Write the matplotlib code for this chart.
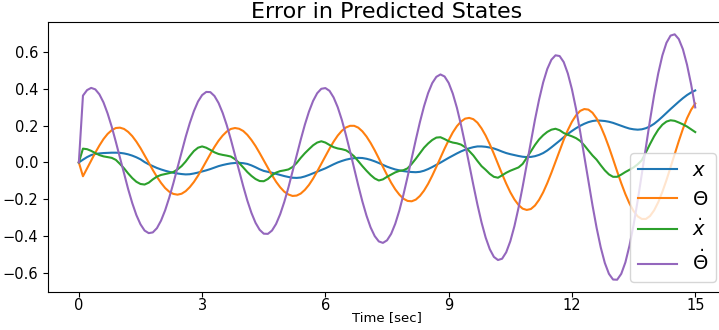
import numpy as np
import matplotlib
matplotlib.use("Agg")
import matplotlib.pyplot as plt

# time grid (sec) and the four error traces
t = np.linspace(0, 15, 151)

err_x = [
    0.000, 0.015, 0.029, 0.040, 0.046, 0.049, 0.051, 0.052, 0.053, 0.053,
    0.052, 0.049, 0.044, 0.037, 0.028, 0.017, 0.002, -0.010, -0.020, -0.030,
    -0.038, -0.045, -0.051, -0.056, -0.060, -0.063, -0.065, -0.064, -0.060, -0.055,
    -0.049, -0.043, -0.036, -0.028, -0.020, -0.014, -0.009, -0.005, -0.003, -0.002,
    -0.004, -0.008, -0.016, -0.026, -0.037, -0.046, -0.051, -0.056, -0.062, -0.068,
    -0.074, -0.079, -0.083, -0.084, -0.082, -0.076, -0.068, -0.059, -0.050, -0.041,
    -0.032, -0.021, -0.010, 0.000, 0.008, 0.015, 0.020, 0.023, 0.025, 0.024,
    0.020, 0.014, 0.006, -0.003, -0.013, -0.023, -0.031, -0.038, -0.043, -0.047,
    -0.050, -0.052, -0.053, -0.051, -0.045, -0.036, -0.025, -0.013, -0.001, 0.012,
    0.025, 0.037, 0.049, 0.060, 0.069, 0.077, 0.083, 0.087, 0.087, 0.085,
    0.081, 0.076, 0.068, 0.059, 0.051, 0.045, 0.040, 0.035, 0.031, 0.029,
    0.030, 0.034, 0.041, 0.051, 0.065, 0.082, 0.100, 0.118, 0.137, 0.155,
    0.171, 0.186, 0.199, 0.210, 0.219, 0.225, 0.228, 0.227, 0.225, 0.221,
    0.215, 0.207, 0.199, 0.191, 0.184, 0.180, 0.178, 0.180, 0.186, 0.196,
    0.210, 0.228, 0.248, 0.269, 0.290, 0.310, 0.330, 0.349, 0.366, 0.380,
    0.391,
]

err_theta = [
    0.000, -0.075, -0.033, 0.010, 0.053, 0.092, 0.127, 0.155, 0.175, 0.187,
    0.189, 0.182, 0.166, 0.143, 0.113, 0.078, 0.039, -0.001, -0.041, -0.078,
    -0.111, -0.139, -0.159, -0.171, -0.175, -0.170, -0.156, -0.134, -0.106, -0.072,
    -0.034, 0.006, 0.046, 0.084, 0.118, 0.146, 0.168, 0.182, 0.187, 0.183,
    0.171, 0.150, 0.122, 0.089, 0.051, 0.011, -0.030, -0.069, -0.105, -0.135,
    -0.159, -0.174, -0.182, -0.180, -0.169, -0.149, -0.122, -0.088, -0.049, -0.008,
    0.034, 0.075, 0.113, 0.146, 0.172, 0.190, 0.199, 0.199, 0.189, 0.169,
    0.141, 0.106, 0.066, 0.022, -0.024, -0.068, -0.110, -0.146, -0.175, -0.197,
    -0.209, -0.211, -0.202, -0.182, -0.153, -0.116, -0.072, -0.024, 0.026, 0.075,
    0.121, 0.163, 0.197, 0.222, 0.238, 0.242, 0.235, 0.216, 0.185, 0.146,
    0.099, 0.047, -0.008, -0.063, -0.115, -0.162, -0.201, -0.231, -0.251, -0.258,
    -0.253, -0.234, -0.203, -0.162, -0.112, -0.056, 0.004, 0.065, 0.123, 0.176,
    0.221, 0.256, 0.280, 0.290, 0.287, 0.270, 0.239, 0.196, 0.143, 0.083,
    0.018, -0.049, -0.113, -0.172, -0.223, -0.264, -0.293, -0.307, -0.307, -0.291,
    -0.260, -0.216, -0.160, -0.096, -0.026, 0.046, 0.116, 0.182, 0.240, 0.286,
    0.320,
]

err_xdot = [
    0.000, 0.075, 0.072, 0.063, 0.051, 0.040, 0.033, 0.029, 0.025, 0.014,
    -0.008, -0.032, -0.060, -0.085, -0.105, -0.117, -0.120, -0.110, -0.092, -0.077,
    -0.068, -0.063, -0.058, -0.052, -0.038, -0.020, 0.005, 0.035, 0.062, 0.080,
    0.087, 0.080, 0.068, 0.055, 0.046, 0.041, 0.037, 0.032, 0.018, -0.003,
    -0.027, -0.052, -0.073, -0.090, -0.101, -0.102, -0.090, -0.070, -0.055, -0.047,
    -0.043, -0.038, -0.025, -0.003, 0.025, 0.050, 0.072, 0.093, 0.108, 0.115,
    0.108, 0.095, 0.083, 0.076, 0.072, 0.066, 0.052, 0.033, 0.007, -0.020,
    -0.045, -0.068, -0.087, -0.098, -0.092, -0.078, -0.066, -0.054, -0.046, -0.042,
    -0.032, -0.008, 0.020, 0.050, 0.080, 0.103, 0.122, 0.135, 0.137, 0.127,
    0.115, 0.108, 0.104, 0.097, 0.083, 0.062, 0.038, 0.008, -0.020, -0.040,
    -0.062, -0.078, -0.083, -0.070, -0.056, -0.045, -0.036, -0.027, -0.008, 0.025,
    0.060, 0.095, 0.125, 0.148, 0.166, 0.178, 0.183, 0.175, 0.160, 0.150,
    0.142, 0.132, 0.117, 0.093, 0.065, 0.038, 0.015, -0.015, -0.043, -0.065,
    -0.078, -0.078, -0.066, -0.052, -0.040, -0.027, -0.010, 0.012, 0.055, 0.100,
    0.142, 0.178, 0.205, 0.222, 0.229, 0.226, 0.217, 0.207, 0.195, 0.180,
    0.165,
]

err_thetadot = [
    0.000, 0.363, 0.393, 0.405, 0.397, 0.370, 0.326, 0.266, 0.194, 0.112,
    0.026, -0.061, -0.145, -0.221, -0.286, -0.336, -0.370, -0.384, -0.380, -0.357,
    -0.316, -0.260, -0.191, -0.113, -0.029, 0.056, 0.139, 0.214, 0.279, 0.331,
    0.366, 0.383, 0.382, 0.361, 0.323, 0.269, 0.202, 0.124, 0.040, -0.045,
    -0.129, -0.207, -0.274, -0.328, -0.366, -0.387, -0.388, -0.370, -0.334, -0.281,
    -0.214, -0.136, -0.050, 0.038, 0.124, 0.205, 0.276, 0.334, 0.376, 0.400,
    0.404, 0.389, 0.353, 0.300, 0.231, 0.149, 0.060, -0.033, -0.125, -0.212,
    -0.289, -0.353, -0.400, -0.429, -0.437, -0.423, -0.388, -0.333, -0.261, -0.174,
    -0.078, 0.023, 0.123, 0.219, 0.305, 0.377, 0.431, 0.465, 0.478, 0.467,
    0.432, 0.374, 0.297, 0.204, 0.100, -0.011, -0.122, -0.229, -0.326, -0.408,
    -0.471, -0.513, -0.530, -0.523, -0.488, -0.428, -0.346, -0.246, -0.132, -0.010,
    0.113, 0.232, 0.341, 0.435, 0.508, 0.558, 0.582, 0.578, 0.545, 0.483,
    0.397, 0.290, 0.167, 0.034, -0.101, -0.233, -0.355, -0.461, -0.546, -0.605,
    -0.636, -0.637, -0.605, -0.543, -0.452, -0.339, -0.207, -0.063, 0.085, 0.230,
    0.366, 0.484, 0.581, 0.650, 0.689, 0.696, 0.670, 0.615, 0.531, 0.424,
    0.299,
]

labels = [r"$x$", r"$\Theta$", r"$\dot{x}$", r"$\dot{\Theta}$"]
colors = ["#1f77b4", "#ff7f0e", "#2ca02c", "#9467bd"]
x_ticks = [0, 3, 6, 9, 12, 15]

fig = plt.figure(figsize=(7.19, 3.30), dpi=100)
# the right spine sits just past the image edge in the reference
ax = fig.add_axes([0.0668, 0.1152, 0.943, 0.818])

for ys, lab, c in zip([err_x, err_theta, err_xdot, err_thetadot], labels, colors):
    ax.plot(t, ys, color=c, lw=1.5, label=lab)

ax.set_xticks(x_ticks)
ax.tick_params(labelsize=10.5)
ax.tick_params(axis="x", pad=1.0)
ax.set_xlabel("Time [sec]", fontsize=9.5)
ax.xaxis.set_label_coords(0.5, -0.072)
ax.set_title("Error in Predicted States", fontsize=16, pad=2)
ax.legend(loc="lower right", fontsize=14)

fig.savefig("out.png", dpi=100)
